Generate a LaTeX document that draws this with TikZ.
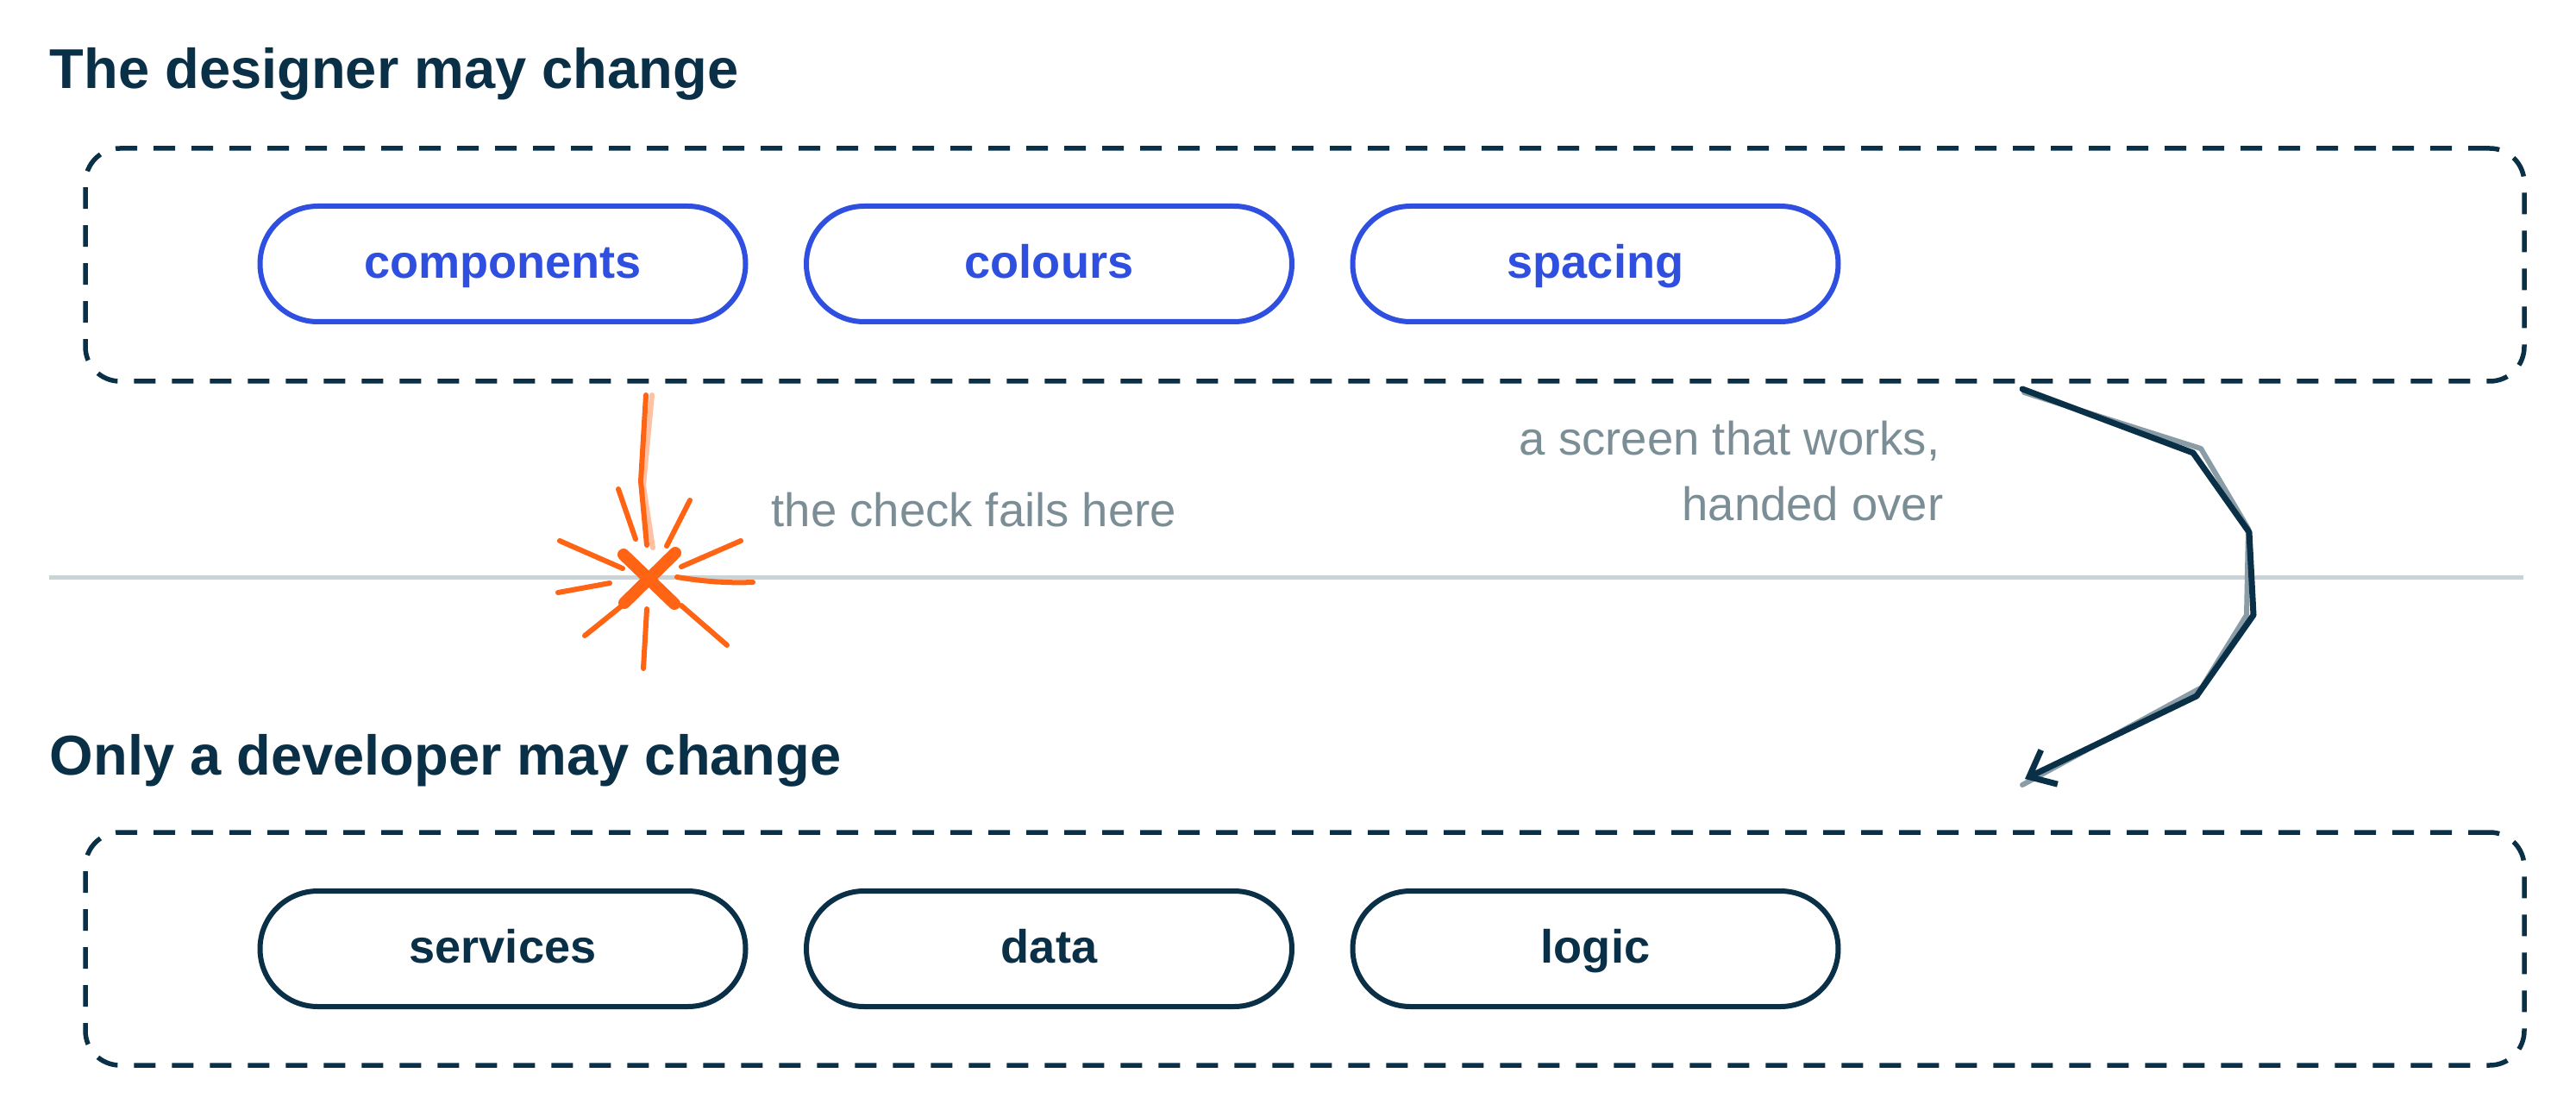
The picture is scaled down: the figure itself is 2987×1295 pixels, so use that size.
\documentclass[tikz,border=0pt]{standalone}
\usepackage{fontspec}
\setmainfont{Liberation Sans}
\usepackage{tikz}
\usetikzlibrary{arrows.meta}

\definecolor{navy}{HTML}{0A3047}
\definecolor{pillblue}{HTML}{2F4FE0}
\definecolor{alarm}{HTML}{FF6414}
\definecolor{notegray}{HTML}{7B8D95}
\definecolor{rulegray}{HTML}{C9D4D8}
\definecolor{shadegray}{HTML}{8A9CA6}

\begin{document}
\begin{tikzpicture}[x=0.1mm,y=-0.1mm,node distance=63.35mm,
  heading/.style={anchor=base west,inner sep=0,text=navy,font=\bfseries\fontsize{18.5}{22}\selectfont},
  zone/.style={draw=navy,line width=0.55mm,dash pattern=on 2.5mm off 1.9mm,rounded corners=4mm,minimum width=282.8mm,minimum height=27mm,inner sep=0},
  pill/.style={rectangle,rounded corners=6.7mm,line width=0.6mm,minimum width=56.3mm,minimum height=13.4mm,inner sep=0,text height=3.3mm,text depth=0mm,font=\bfseries\fontsize{15.4}{18}\selectfont},
  designpill/.style={pill,draw=pillblue,text=pillblue},
  devpill/.style={pill,draw=navy,text=navy},
  note/.style={inner sep=0,text=notegray,font=\fontsize{15.5}{18}\selectfont},
  divider/.style={draw=rulegray,line width=0.5mm},
  cross/.style={draw=alarm,line width=1.4mm,line cap=round},
  spark/.style={draw=alarm,line width=0.6mm,line cap=round,line join=round},
  handoff/.style={draw=navy,line width=0.7mm,line join=round,line cap=round,-{Straight Barb[length=2.6mm,width=4.4mm]}},
  shadowline/.style={draw=shadegray,line width=0.6mm,line join=round,line cap=round}]
\path[use as bounding box,fill=white] (0,0) rectangle (2987,1295);

% upper zone
\node[heading] (designtitle) at (57,103) {The designer may change};
\node[zone] (designzone) at (1513,307) {};
\node[designpill] (components) at (583,306) {components};
\node[designpill] (colours) [right of=components] {colours};
\node[designpill] (spacing) [right of=colours] {spacing};

% lower zone
\node[heading] (devtitle) at (57,898) {Only a developer may change};
\node[zone] (devzone) at (1513,1100) {};
\node[devpill] (services) at (583,1100) {services};
\node[devpill] (data) [right of=services] {data};
\node[devpill] (logic) [right of=data] {logic};

\draw[divider] (57,669) -- (2926,669);

% failed check
\node[note,anchor=base west] (faillabel) at (894,610) {the check fails here};
\coordinate (checkstart) at (749,458);
\draw[spark,opacity=.4] (756,458) -- (746,563) -- (757,635);
\draw[spark] (checkstart) -- (743,558) -- (750,632);
\draw[spark] (717,567) -- (737,625) (800,580) -- (773,633)
  (649,627) -- (722,659) (859,627) -- (790,657)
  (647,687) -- (707,676) (678,737) -- (724,700)
  (790,702) -- (843,748) (750,706) -- (746,775);
\draw[spark] (785,669) .. controls (820,675) and (850,676) .. (873,675);
\draw[cross] (723,643) -- (782,700) (783,641) -- (724,699);

% hand-over
\node[note,anchor=base east] (worklabel) at (2250,527) {a screen that works,};
\node[note,anchor=base east] (overlabel) at (2254,603) {handed over};
\coordinate (handstart) at (2345,451);
\coordinate (handend) at (2348,903);
\draw[shadowline] (2347,455) -- (2552,520) -- (2607,613) -- (2605,713) -- (2553,797) -- (2345,910);
\draw[handoff] (handstart) -- (2543,525) -- (2608,617) -- (2613,713) -- (2547,807) -- (handend);
\end{tikzpicture}
\end{document}
